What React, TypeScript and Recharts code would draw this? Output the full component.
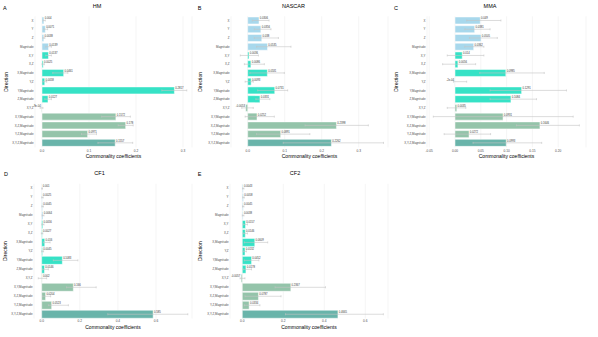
import React from 'react';
import {
  BarChart,
  Bar,
  XAxis,
  YAxis,
  CartesianGrid,
  Cell,
  ErrorBar,
  LabelList,
} from 'recharts';

const directions = [
  'X',
  'Y',
  'Z',
  'Magnitude',
  'X,Y',
  'X,Z',
  'X,Magnitude',
  'Y,Z',
  'Y,Magnitude',
  'Z,Magnitude',
  'X,Y,Z',
  'X,Y,Magnitude',
  'X,Z,Magnitude',
  'Y,Z,Magnitude',
  'X,Y,Z,Magnitude',
];

// single / pairs / triples / all four
const directionColors = [
  '#a8d8ec', '#a8d8ec', '#a8d8ec', '#a8d8ec',
  '#36e2c6', '#36e2c6', '#36e2c6', '#36e2c6', '#36e2c6', '#36e2c6',
  '#94c4aa', '#94c4aa', '#94c4aa', '#94c4aa',
  '#69b4aa',
];

const hmValues = [0.004, 0.0071, 0.0038, 0.0139, 0.0137, 0.0025, 0.0461, 0.0058, 0.2817, 0.0127, -0.0009, 0.1572, 0.178, 0.0971, 0.1557];
const hmLower = [0.002, 0.004, 0.002, 0.008, 0.008, 0.0, 0.023, 0.002, 0.255, 0.006, -0.004, 0.127, 0.162, 0.084, 0.119];
const hmUpper = [0.007, 0.012, 0.006, 0.02, 0.02, 0.005, 0.055, 0.01, 0.308, 0.02, 0.002, 0.188, 0.194, 0.116, 0.193];

const nascarValues = [0.0306, 0.0356, 0.038, 0.0535, 0.0036, 0.0086, 0.0531, 0.0093, 0.0731, 0.0331, -0.0053, 0.0252, 0.2398, 0.0891, 0.2262];
const nascarLower = [0.0126, 0.018, 0.018, 0.024, -0.02, -0.009, 0.006, -0.007, 0.027, 0.022, -0.016, -0.007, 0.155, 0.024, 0.096];
const nascarUpper = [0.0577, 0.063, 0.083, 0.117, 0.029, 0.045, 0.099, 0.015, 0.108, 0.06, 0.015, 0.072, 0.326, 0.168, 0.367];

const mmaValues = [0.049, 0.0381, 0.0505, 0.0362, 0.014, 0.0056, 0.0985, -0.0002, 0.1291, 0.1084, 0.0035, 0.0931, 0.1646, 0.0272, 0.0993];
const mmaLower = [0.0226, 0.019, 0.028, 0.019, -0.015, -0.024, 0.048, -0.003, 0.068, 0.068, -0.015, -0.042, 0.119, -0.021, 0.035];
const mmaUpper = [0.089, 0.068, 0.082, 0.056, 0.056, 0.04, 0.173, 0.0226, 0.216, 0.158, 0.021, 0.229, 0.241, 0.069, 0.168];

const cf1Values = [0.001, 0.0025, 0.0045, 0.0064, 0.0056, 0.0027, 0.016, 0.0045, 0.1083, 0.0146, 0.002, 0.166, 0.0204, 0.0523, 0.585];
const cf1Lower = [0.0, 0.0, 0.001, 0.002, 0.001, -0.002, 0.009, 0.0, 0.061, 0.005, -0.018, 0.13, 0.005, 0.035, 0.347];
const cf1Upper = [0.004, 0.008, 0.009, 0.012, 0.012, 0.006, 0.044, 0.01, 0.19, 0.035, 0.026, 0.286, 0.047, 0.14, 0.767];

const cf2Values = [0.0043, 0.0058, 0.0045, 0.0038, 0.0157, 0.0146, 0.0609, 0.0132, 0.0452, 0.0178, -0.0057, 0.2367, 0.0787, 0.0334, 0.4665];
const cf2Lower = [0.001, 0.002, 0.001, 0.0, 0.005, 0.005, 0.01, 0.005, 0.01, 0.005, -0.011, 0.16, 0.013, 0.01, 0.211];
const cf2Upper = [0.008, 0.01, 0.008, 0.008, 0.025, 0.025, 0.124, 0.02, 0.081, 0.045, 0.013, 0.406, 0.189, 0.086, 0.688];

const tenthTicks = [0, 0.1, 0.2, 0.3];
const mmaTicks = [-0.05, 0, 0.05, 0.1, 0.15, 0.2];
const fifthTicks = [0, 0.2, 0.4, 0.6];

const FONT = '"Liberation Sans", Arial, sans-serif';

const fmtLabel = (v: number) => {
  if (v !== 0 && Math.abs(v) < 0.001) {
    return v.toExponential(0).replace(/e([+-])(\d)$/, 'e$10$2');
  }
  return String(Number(v.toFixed(4)));
};

const ValueLabel = (props: any) => {
  const vb = props.viewBox || {};
  const x = Number(props.x ?? vb.x);
  const y = Number(props.y ?? vb.y);
  const w = Number(props.width ?? vb.width);
  const h = Number(props.height ?? vb.height);
  const value = Number(props.value);
  if (!isFinite(x) || !isFinite(value)) return null;
  const lo = Math.min(x, x + w);
  const hi = Math.max(x, x + w);
  const pos = value >= 0;
  return (
    <text
      x={pos ? hi + 0.8 : lo - 0.8}
      y={y + h / 2 - 1.1}
      textAnchor={pos ? 'start' : 'end'}
      fontSize={2.7}
      fill="#333333"
      fontFamily={FONT}
    >
      {fmtLabel(value)}
    </text>
  );
};

interface PanelProps {
  letter: string;
  title: string;
  values: number[];
  lower: number[];
  upper: number[];
  ticks: number[];
  digits: number;
  left: number;
  top: number;
  width: number;
  height: number;
  plotLeft: number;
  plotRight: number;
  plotTop: number;
  plotBottom: number;
  zero: number;
  ppu: number;
  titleX: number;
  titleY: number;
  letterX: number;
  letterY: number;
  dirX: number;
  xTitleY: number;
  tickGap: number;
}

const Panel: React.FC<PanelProps> = (p) => {
  const data = directions.map((name, i) => ({
    name,
    value: p.values[i],
    err: [p.values[i] - p.lower[i], p.upper[i] - p.values[i]],
  }));
  const domain = [(p.plotLeft - p.zero) / p.ppu, (p.plotRight - p.zero) / p.ppu];
  const plotTopRel = p.plotTop - p.top;
  const plotBottomRel = p.plotBottom - p.top;

  return (
    <div style={{ position: 'absolute', left: p.left, top: p.top, width: p.width, height: p.height }}>
      <BarChart
        width={p.width}
        height={p.height}
        data={data}
        layout="vertical"
        margin={{ top: plotTopRel, right: p.left + p.width - p.plotRight, bottom: 0, left: 0 }}
        barCategoryGap="8%"
      >
        <CartesianGrid horizontal={false} stroke="#ebebeb" strokeWidth={0.5} />
        <XAxis
          type="number"
          domain={domain}
          allowDataOverflow
          ticks={p.ticks}
          tickFormatter={(v: number) => v.toFixed(p.digits)}
          height={p.height - plotBottomRel}
          axisLine={false}
          tickLine={false}
          tickSize={0}
          tickMargin={p.tickGap}
          tick={{ fontSize: 3.2, fill: '#4d4d4d', fontFamily: FONT }}
          interval={0}
        />
        <YAxis
          type="category"
          dataKey="name"
          width={p.plotLeft - p.left}
          axisLine={false}
          tickLine={false}
          tickSize={0}
          tickMargin={1.5}
          tick={{ fontSize: 2.9, fill: '#4d4d4d', fontFamily: FONT }}
          interval={0}
        />
        <Bar dataKey="value" isAnimationActive={false} stroke="#ffffff" strokeWidth={0.5}>
          {data.map((_, i) => (
            <Cell key={`cell-${i}`} fill={directionColors[i]} />
          ))}
          <ErrorBar
            dataKey="err"
            direction="x"
            width={1}
            stroke="#c4c4c4"
            strokeWidth={0.6}
            isAnimationActive={false}
          />
          <LabelList dataKey="value" content={ValueLabel} />
        </Bar>
      </BarChart>
      <svg
        width={p.width}
        height={p.height}
        style={{ position: 'absolute', left: 0, top: 0, pointerEvents: 'none' }}
        fontFamily={FONT}
      >
        <text x={p.letterX - p.left} y={p.letterY - p.top} fontSize={5.5} dominantBaseline="central" fill="#000">
          {p.letter}
        </text>
        <text x={p.titleX - p.left} y={p.titleY - p.top} fontSize={5.5} textAnchor="middle" dominantBaseline="central" fill="#000">
          {p.title}
        </text>
        <text
          x={(p.plotLeft + p.plotRight) / 2 - p.left}
          y={p.xTitleY - p.top}
          fontSize={5}
          textAnchor="middle"
          dominantBaseline="central"
          fill="#000"
        >
          Commonality coefficients
        </text>
        <text
          transform={`translate(${p.dirX - p.left}, ${(plotTopRel + plotBottomRel) / 2}) rotate(-90)`}
          fontSize={5}
          textAnchor="middle"
          dominantBaseline="central"
          fill="#000"
        >
          Direction
        </text>
      </svg>
    </div>
  );
};

const topRow = { top: 0, height: 160, plotTop: 16.3, plotBottom: 147.4, titleY: 5.5, letterY: 7.5, xTitleY: 155.7, tickGap: 2.4 };
const bottomRow = { top: 165, height: 172, plotTop: 183.8, plotBottom: 318.5, titleY: 172.5, letterY: 174, xTitleY: 327, tickGap: 1.7 };

export default function App() {
  return (
    <div style={{ position: 'absolute', left: 0, top: 0, width: 598, height: 337, background: '#ffffff', fontFamily: FONT, overflow: 'hidden' }}>
      <Panel
        {...topRow}
        letter="A" title="HM" values={hmValues} lower={hmLower} upper={hmUpper} ticks={tenthTicks} digits={1}
        left={0} width={196} plotLeft={35} plotRight={192} zero={42} ppu={470}
        titleX={97} letterX={3} dirX={6}
      />
      <Panel
        {...topRow}
        letter="B" title="NASCAR" values={nascarValues} lower={nascarLower} upper={nascarUpper} ticks={tenthTicks} digits={1}
        left={195} width={196} plotLeft={231} plotRight={388} zero={247.7} ppu={370}
        titleX={293.5} letterX={197.7} dirX={200}
      />
      <Panel
        {...topRow}
        letter="C" title="MMA" values={mmaValues} lower={mmaLower} upper={mmaUpper} ticks={mmaTicks} digits={2}
        left={390} width={208} plotLeft={427} plotRight={586} zero={455} ppu={516}
        titleX={490} letterX={394} dirX={395.5}
      />
      <Panel
        {...bottomRow}
        letter="D" title="CF1" values={cf1Values} lower={cf1Lower} upper={cf1Upper} ticks={fifthTicks} digits={1}
        left={0} width={196} plotLeft={34} plotRight={192} zero={41.7} ppu={190.5}
        titleX={99.5} letterX={4} dirX={5}
      />
      <Panel
        {...bottomRow}
        letter="E" title="CF2" values={cf2Values} lower={cf2Lower} upper={cf2Upper} ticks={fifthTicks} digits={1}
        left={195} width={196} plotLeft={230} plotRight={388} zero={242.3} ppu={205}
        titleX={295} letterX={197.7} dirX={200}
      />
    </div>
  );
}
